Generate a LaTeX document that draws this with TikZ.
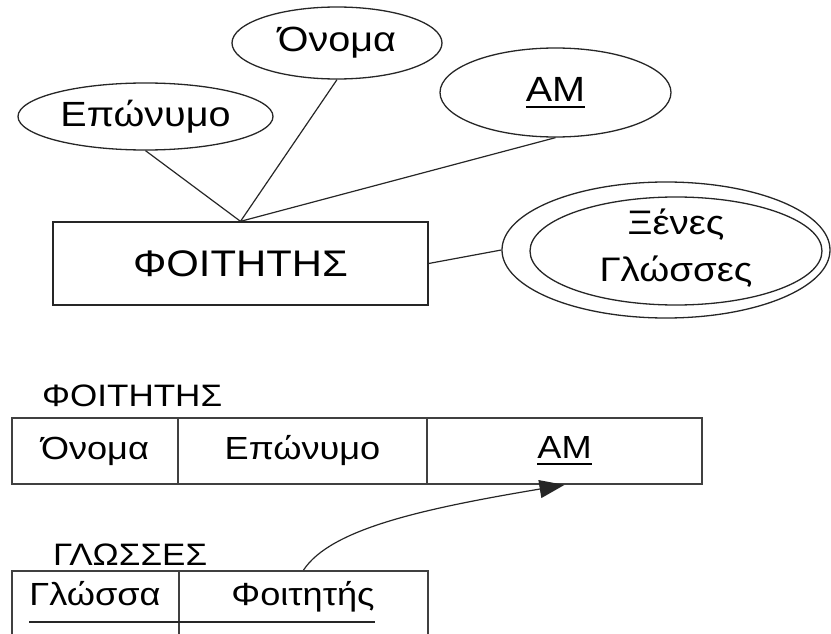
\documentclass[tikz,border=0pt]{standalone}
\usepackage{fontspec}
\setmainfont[FakeStretch=1.13]{Liberation Sans}
\usetikzlibrary{shapes.geometric,arrows.meta}

% underlined key attribute with a heavier rule
\newcommand\keyattr[1]{\sbox0{#1}\rlap{\rule[-6.5pt]{\wd0}{1.8pt}}\usebox0}

\begin{document}
\begin{tikzpicture}[x=1pt,y=-1pt,
  attr/.style={ellipse, draw=black!85, line width=1.3pt, inner sep=0pt,
    font=\fontsize{35}{42}\selectfont},
  entity/.style={rectangle, draw=black!85, line width=1.3pt, inner sep=0pt,
    font=\fontsize{37}{44}\selectfont},
  link/.style={draw=black!85, line width=1.2pt},
  cell/.style={rectangle, draw=black!75, line width=1.8pt, inner sep=0pt,
    font=\fontsize{32}{38}\selectfont},
  celltext/.style={inner sep=0pt, anchor=base, font=\fontsize{32}{38}\selectfont},
  tname/.style={inner sep=0pt, anchor=base west, font=\fontsize{31}{37}\selectfont}]

\useasboundingbox (0,0) rectangle (831,634);
\clip (0,0) rectangle (831,634);

% ---- ER diagram ----
\node[attr, minimum width=255pt, minimum height=67pt] (ep) at (145.5,116.5) {Επώνυμο};
\node[attr, minimum width=210pt, minimum height=72pt] (on) at (337,43) {Όνομα};
\node[attr, minimum width=231pt, minimum height=89pt] (am) at (555.5,92.5) {\keyattr{AM}};
\node[entity, minimum width=375pt, minimum height=83pt] (st) at (240.5,263.5) {ΦΟΙΤΗΤΗΣ};

% multivalued attribute: double ellipse
\node[attr, minimum width=328pt, minimum height=136pt] (xo) at (666,250) {};
\node[attr, minimum width=292pt, minimum height=108pt] (xi) at (676,251) {};
\node[inner sep=0pt, align=center, font=\fontsize{34}{47}\selectfont] (xt) at ([yshift=3pt]xi.center) {Ξένες\\Γλώσσες};

\draw[link] (ep.south) -- (st.north);
\draw[link] (on.south) -- (st.north);
\draw[link] (am.south) -- (st.north);
\draw[link] (st.east) -- (xo.west);

% ---- relational schema ----
\node[tname] (t1) at (42,406) {ΦΟΙΤΗΤΗΣ};
\node[cell, minimum width=166pt, minimum height=66pt] (a1) at (95,451) {Όνομα};
\node[cell, minimum width=249pt, minimum height=66pt] (a2) at (302.5,451) {Επώνυμο};
\node[cell, minimum width=275pt, minimum height=66pt] (a3) at (564.5,451) {\keyattr{AM}};

\node[tname] (t2) at (53,565) {ΓΛΩΣΣΕΣ};
\node[cell, minimum width=167pt, minimum height=100pt] (g1) at (95.5,621) {};
\node[cell, minimum width=249pt, minimum height=100pt] (g2) at (303.5,621) {};
\node[celltext] (gl) at (95,605) {Γλώσσα};
\node[celltext] (ft) at (303,605) {Φοιτητής};
\draw[draw=black!85, line width=1.8pt] ([yshift=-17pt]gl.base west) -- ([yshift=-17pt]ft.base east);

\draw[link, -{Triangle[length=25pt,width=18pt]}] (g2.north) .. controls +(27,-41) and +(-143,24) .. (a3.south);
\end{tikzpicture}
\end{document}
